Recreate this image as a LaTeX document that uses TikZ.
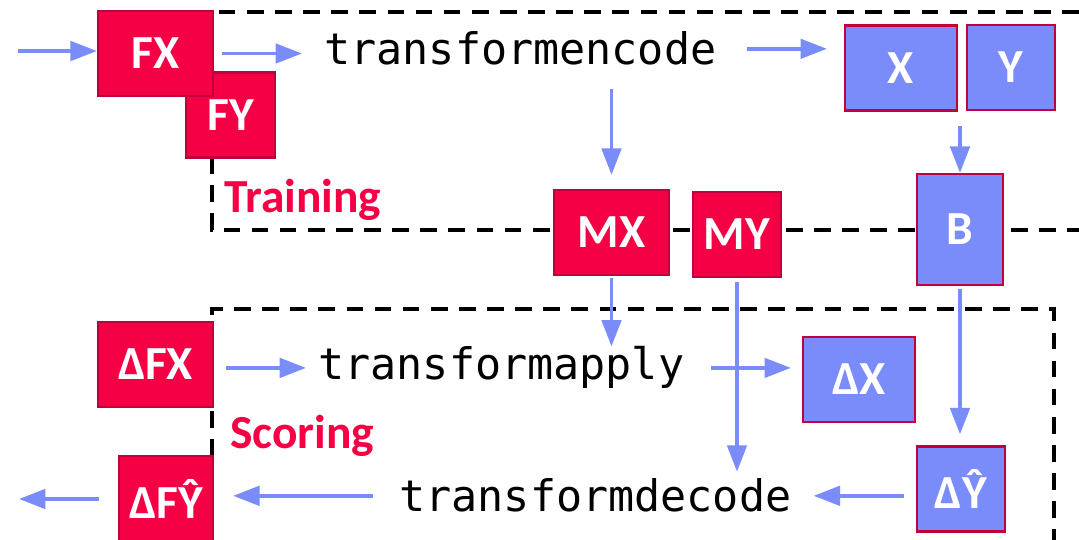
\documentclass[tikz,border=0pt]{standalone}
\usepackage{fontspec}
\setmainfont{Carlito}
\setmonofont{DejaVu Sans Mono}
\usepackage{tikz}
\usetikzlibrary{arrows.meta}
\definecolor{crim}{HTML}{F50045}
\definecolor{crimdark}{HTML}{C0003C}
\definecolor{peri}{HTML}{7A8BFA}

\begin{document}
\begin{tikzpicture}[
  font=\fontsize{27}{31}\selectfont\bfseries,
  rbox/.style={draw=crimdark, fill=crim, line width=1.3pt, text=white, minimum width=#1, minimum height=1.70cm, inner sep=0pt},
  rbox/.default=2.30cm,
  bbox/.style={rbox=#1, fill=peri},
  bbox/.default=2.24cm,
  code/.style={font=\fontsize{24.7}{28}\selectfont\ttfamily, inner sep=0pt, anchor=base west},
  tag/.style={text=crim, inner sep=0pt, anchor=base west},
  zone/.style={line width=2.3pt, dash pattern=on 9.5pt off 6.5pt},
  link/.style={draw=peri, line width=2.1pt, ->},
  >={Triangle[length=15pt, width=11pt]},
]
\useasboundingbox (0,0) rectangle (21.58,-10.8);

% training and scoring zones
\draw[zone] (21.58,-0.24) -- (4.24,-0.24) -- (4.24,-4.60) -- (21.58,-4.60);
\draw[zone] (4.24,-10.8) -- (4.24,-6.18) -- (21.08,-6.18) -- (21.08,-10.8);

\node[rbox=1.78cm] (FY) at (4.61,-2.30) {FY};
\node[rbox] (FX) at (3.11,-1.07) {FX};
\node[bbox] (X) at (18.02,-1.36) {X};
\node[bbox=1.76cm] (Y) at (20.22,-1.35) {Y};
\node[rbox] (MX) at (12.23,-4.65) {MX};
\node[rbox=1.76cm] (MY) at (14.74,-4.69) {MY};
\node[bbox=1.72cm, minimum height=2.22cm] (B) at (19.20,-4.59) {B};

\node[rbox] (dFX) at (3.11,-7.29) {ΔFX};
\node[bbox] (dX) at (17.18,-7.59) {ΔX};
\node[bbox=1.76cm] (dY) at (19.22,-9.78) {ΔŶ};
\node[rbox=1.88cm] (dFY) at (3.32,-9.97) {ΔFŶ};

\node[code] (enc) at (6.48,-1.30) {transformencode};
\node[code] (app) at (6.36,-7.60) {transformapply};
\node[code] (dec) at (7.98,-10.24) {transformdecode};
\node[tag] (train) at (4.48,-4.26) {Training};
\node[tag] (score) at (4.60,-8.96) {Scoring};

\coordinate (in) at (0.36,-1.02);
\coordinate (out) at (0.38,-9.98);

% training
\draw[link] (in) -- (FX.west |- in);
\draw[link, shorten <=0.16cm, shorten >=0.44cm] (FX.east) -- (FX.east -| enc.west);
\draw[link, shorten <=0.6cm, shorten >=0.34cm] (enc.east) -- (enc.east -| X.west);
\draw[link, shorten <=0.47cm, shorten >=0.28cm] (enc.south -| MX) -- (MX.north);
\draw[link, shorten <=0.28cm] (B.north |- X.south) -- (B.north);

% scoring
\draw[link, shorten <=0.04cm] (MX.south) -- (MX.south |- app.north);
\draw[link, shorten <=0.08cm, shorten >=0.14cm] (MY.south) -- (MY.south |- dec.north);
\draw[link, shorten <=0.06cm, shorten >=0.22cm] (B.south) -- (B.south |- dY.north);
\draw[link, shorten <=0.24cm, shorten >=0.24cm] (dFX.east |- app.west) -- (app.west);
\draw[link, shorten <=0.52cm, shorten >=0.22cm] (app.east) -- (app.east -| dX.west);
\draw[link, shorten <=0.24cm, shorten >=0.44cm] (dY.west |- dec.east) -- (dec.east);
\draw[link, shorten <=0.52cm, shorten >=0.38cm] (dec.west) -- (dec.west -| dFY.east);
\draw[link, shorten <=0.38cm] (dFY.west |- out) -- (out);
\end{tikzpicture}
\end{document}
